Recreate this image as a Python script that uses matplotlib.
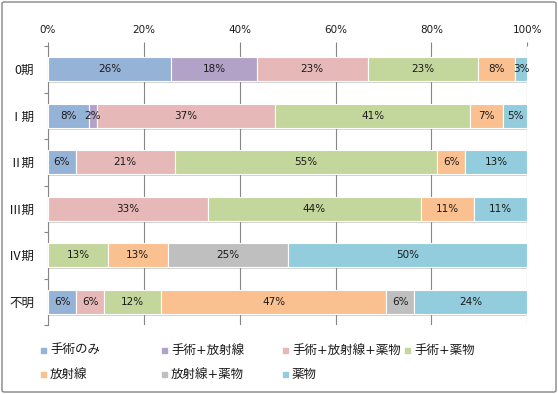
import matplotlib
matplotlib.use("Agg")
import matplotlib.pyplot as plt
import matplotlib.patheffects as pe
from matplotlib.patches import Rectangle, FancyBboxPatch
import numpy as np

plt.rcParams['font.family'] = ['DejaVu Sans', 'Noto Sans CJK JP']

# stages (rows, top to bottom)
stages = ["0期", "Ⅰ期", "Ⅱ期", "Ⅲ期", "Ⅳ期", "不明"]

# share of each treatment per stage (%)
surgery_only = [25.64, 8.47, 5.8, 0, 0, 5.88]
surgery_rad = [17.95, 1.69, 0, 0, 0, 0]
surgery_rad_drug = [23.08, 37.29, 20.6, 33.33, 0, 5.88]
surgery_drug = [23.08, 40.68, 54.8, 44.44, 12.5, 11.76]
radiation = [7.69, 6.78, 5.8, 11.11, 12.5, 47.06]
rad_drug = [0, 0, 0, 0, 25.0, 5.88]
drug = [2.56, 5.08, 13.0, 11.11, 50.0, 23.53]

series_names = ["手術のみ", "手術+放射線", "手術+放射線+薬物", "手術+薬物",
                "放射線", "放射線+薬物", "薬物"]
series_vals = [surgery_only, surgery_rad, surgery_rad_drug, surgery_drug,
               radiation, rad_drug, drug]
colors = ["#95B3D7", "#B3A2C7", "#E6B9B8", "#C3D69B",
          "#FAC090", "#BFBFBF", "#93CDDD"]

xticks = [0, 20, 40, 60, 80, 100]

W, H = 558, 394
fig = plt.figure(figsize=(W / 100, H / 100), dpi=100)
ax = fig.add_axes([48 / W, 1 - 325 / H, (527.3 - 48) / W, (325 - 46) / H])

y = np.arange(len(stages))
left = np.zeros(len(stages))
shadow = [pe.SimplePatchShadow(offset=(0.5, -1.5), shadow_rgbFace='#808080', alpha=0.35),
          pe.Normal()]
for name, vals, col in zip(series_names, series_vals, colors):
    vals = np.array(vals, dtype=float)
    bars = ax.barh(y, vals, left=left, height=0.52, color=col,
                   edgecolor='white', linewidth=0.8, zorder=3)
    for b in bars:
        b.set_path_effects(shadow)
    for yi, v, l in zip(y, vals, left):
        if v > 0:
            ax.text(l + v / 2, yi, f"{int(v + 0.5)}%", ha='center', va='center',
                    fontsize=7.5, color='#1a1a1a', zorder=4)
    left += vals

ax.set_xlim(0, 100)
ax.set_ylim(len(stages) - 0.5, -0.5)

ax.xaxis.tick_top()
ax.set_xticks(xticks)
ax.set_xticklabels([f"{t}%" for t in xticks], fontsize=7.5, color='#1a1a1a')
ax.tick_params(axis='x', direction='out', length=3, width=0.8, color='#868686', pad=5)
ax.grid(axis='x', color='#868686', linewidth=0.8, zorder=0)

ax.set_yticks(y)
ax.set_yticklabels(stages, fontsize=9, color='#1a1a1a',
                   family=['Noto Sans CJK JP', 'DejaVu Sans'])
ax.set_yticks(np.arange(-0.5, len(stages)), minor=True)
ax.tick_params(axis='y', which='major', length=0, pad=10)
ax.tick_params(axis='y', which='minor', direction='out', length=3, width=0.8, color='#868686')

for s in ['top', 'right', 'bottom']:
    ax.spines[s].set_visible(False)
ax.spines['left'].set_color('#868686')
ax.spines['left'].set_linewidth(0.8)

# legend, laid out like the original (fixed columns, two rows)
leg_x = [41, 162, 283, 405]
leg_y = [350, 374]
for i, (name, col) in enumerate(zip(series_names, colors)):
    r, c = divmod(i, 4)
    mx, my = leg_x[c], leg_y[r]
    fig.patches.append(Rectangle((mx / W, 1 - (my + 2.5) / H), 5 / W, 5 / H,
                                 transform=fig.transFigure, color=col))
    fig.text((mx + 9) / W, 1 - my / H, name, ha='left', va='center',
             fontsize=9, color='#1a1a1a')

# outer chart border
fig.patches.append(FancyBboxPatch((2 / W, 2 / H), 554 / W, 390 / H,
                                  boxstyle="round,pad=0,rounding_size=0.004",
                                  transform=fig.transFigure, fill=False,
                                  edgecolor='#868686', linewidth=1))

fig.savefig("out.png", dpi=100, facecolor='white')
